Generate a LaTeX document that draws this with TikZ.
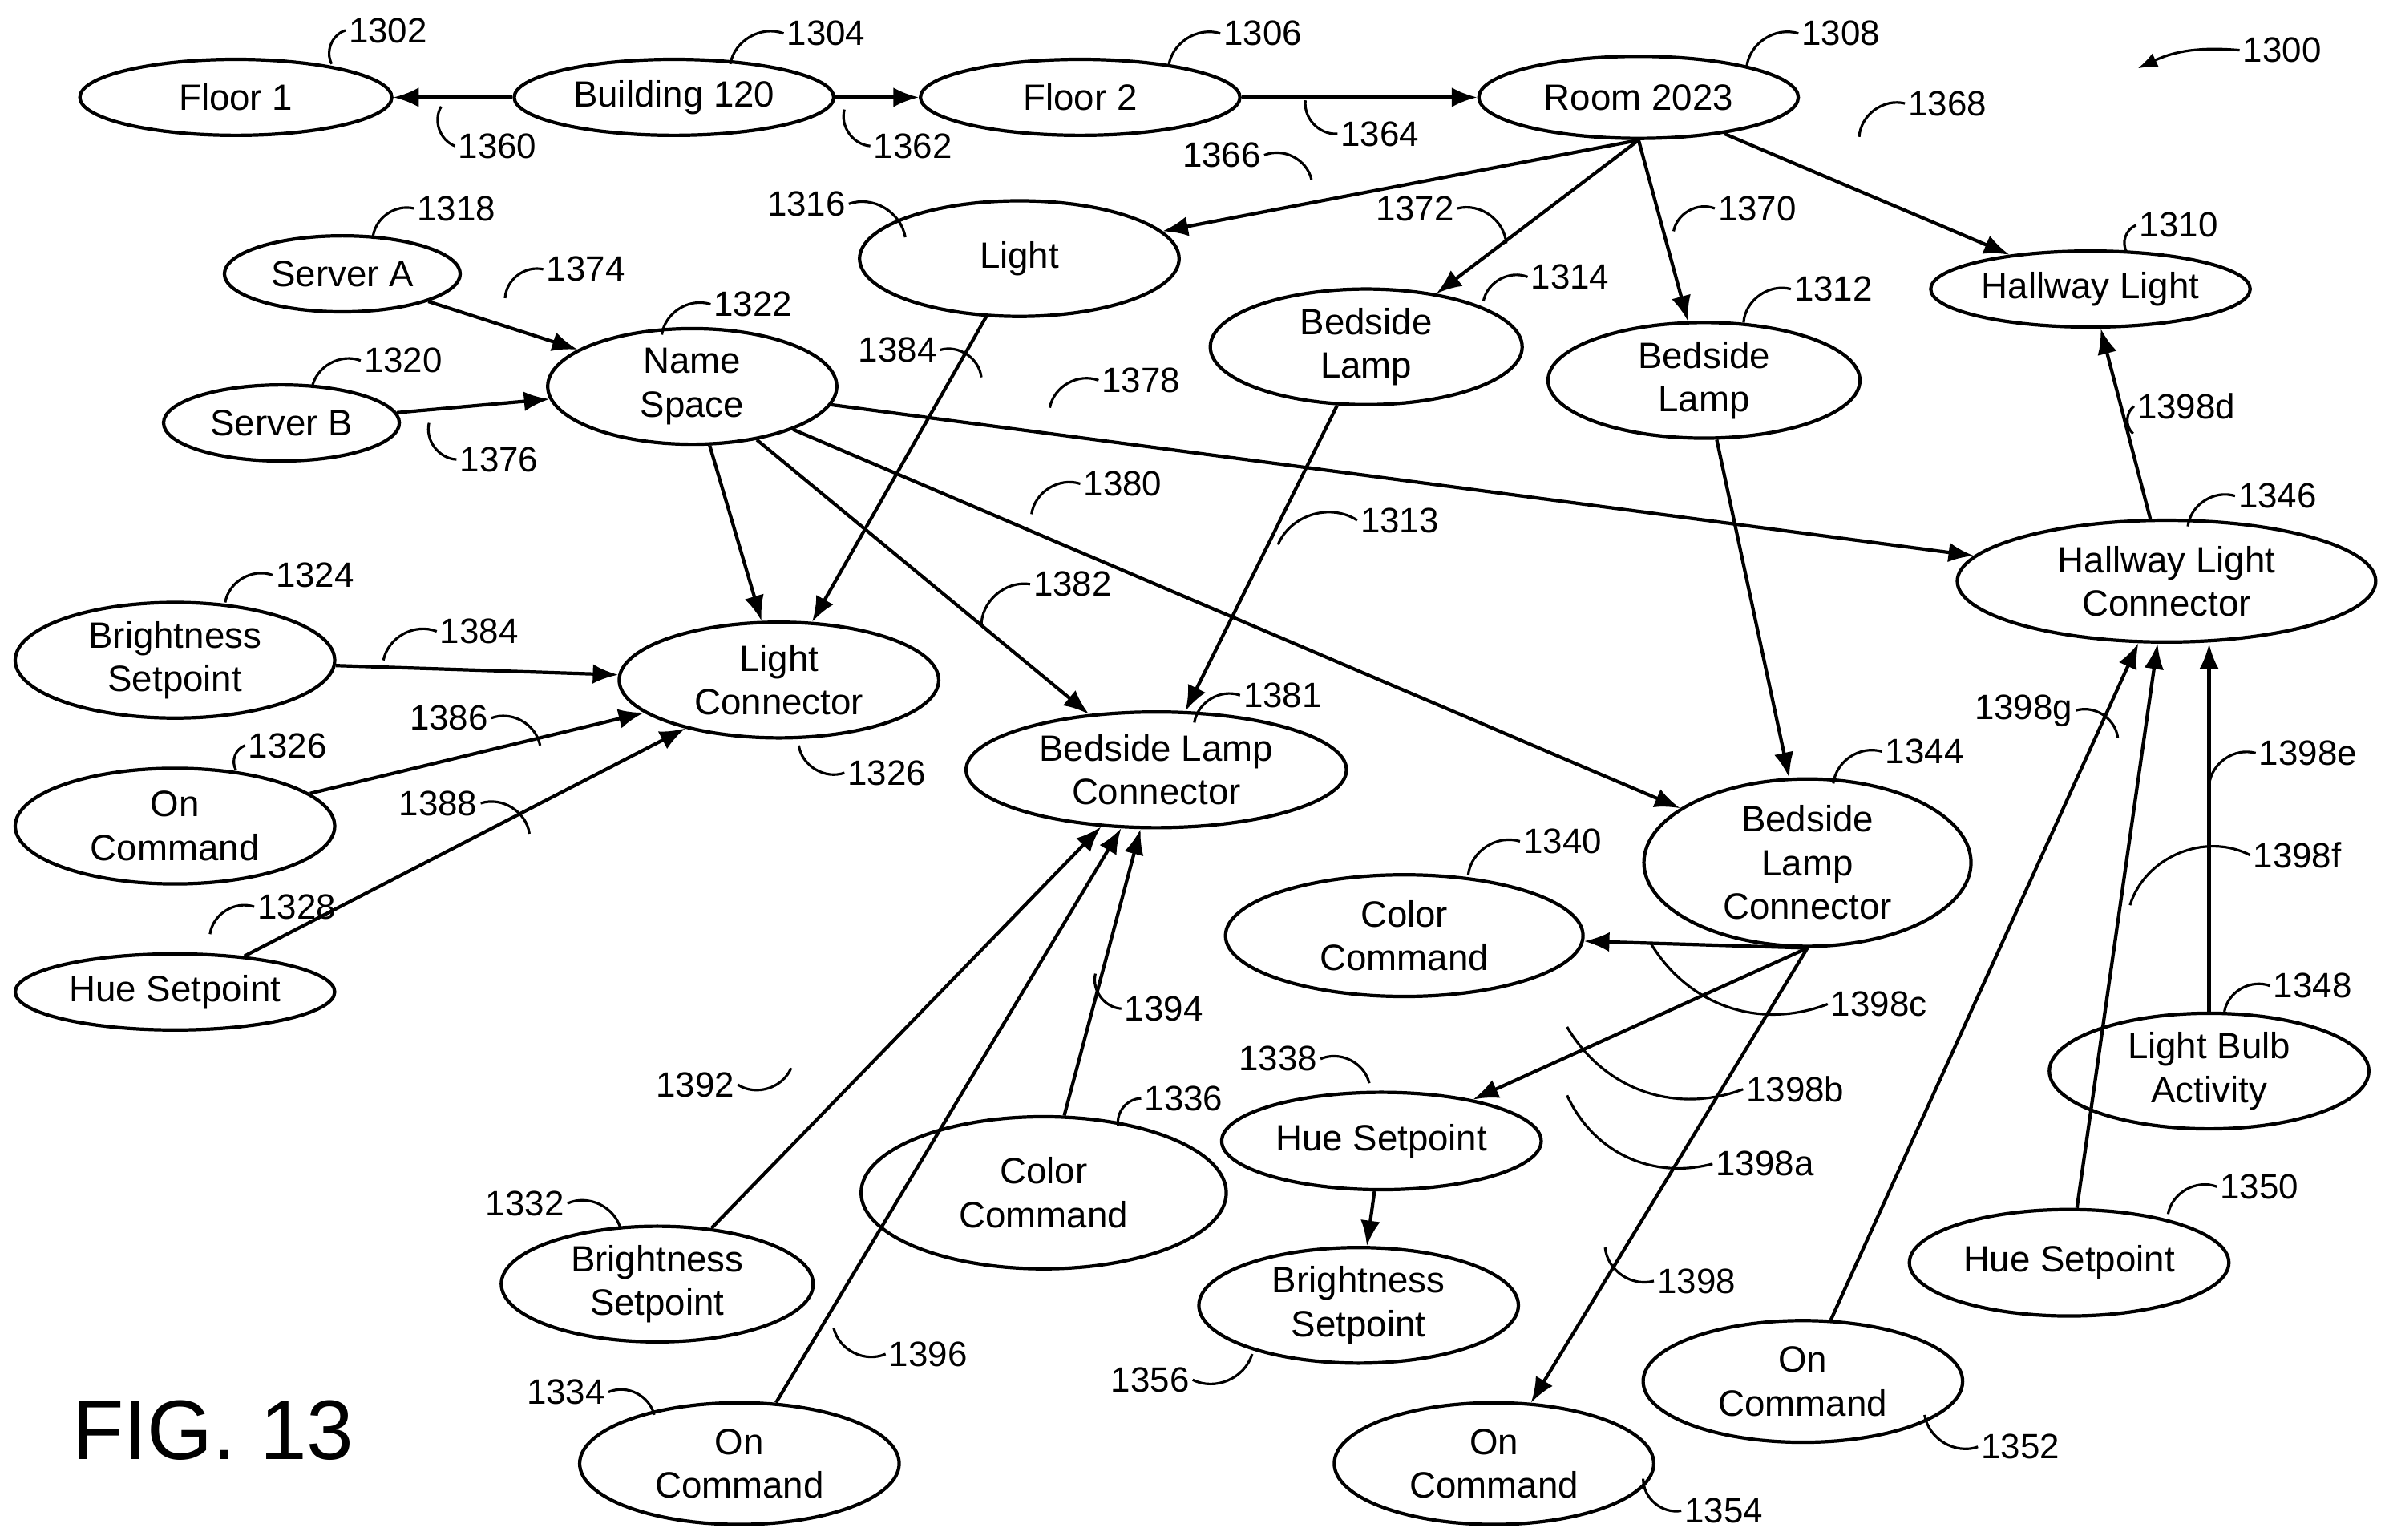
\documentclass[tikz,border=0pt]{standalone}
\usepackage{fontspec}
\setmainfont{Liberation Sans}
\usetikzlibrary{shapes.geometric,arrows.meta}
\begin{document}
\begin{tikzpicture}[x=0.019cm,y=-0.019cm,
  e/.style 2 args={ellipse,draw,line width=1.2pt,inner sep=0pt,minimum width=#1*0.019cm,minimum height=#2*0.019cm,align=center,font=\fontsize{13}{15.5}\selectfont},
  a/.style={-{Latex[length=9pt,width=7pt]},line width=1.2pt},
  lab/.style={font=\fontsize{12.5}{14}\selectfont,inner sep=1pt},
  lead/.style={line width=0.9pt}]
\useasboundingbox (0,0) rectangle (1565,1012);
\newcommand\lbl[5][50]{\node[lab] (#4) at (#2) {#4}; \draw[lead] (#3) to[bend left=#1] (#4.#5);}
\node[e={205}{50}] (f1) at (155,64) {Floor 1};
\node[e={210}{50}] (b120) at (443,64) {Building 120};
\node[e={210}{50}] (f2) at (710,64) {Floor 2};
\node[e={210}{54}] (room) at (1077,64) {Room 2023};
\node[e={210}{76}] (light) at (670,170) {Light};
\node[e={155}{50}] (sa) at (225,180) {Server A};
\node[e={155}{50}] (sb) at (185,278) {Server B};
\node[e={190}{76}] (ns) at (455,254) {Name\\Space};
\node[e={205}{76}] (bl1) at (898,228) {Bedside\\Lamp};
\node[e={205}{76}] (bl2) at (1120,250) {Bedside\\Lamp};
\node[e={210}{50}] (hl) at (1374,190) {Hallway Light};
\node[e={275}{80}] (hlc) at (1424,382) {Hallway Light\\Connector};
\node[e={210}{76}] (bs1) at (115,434) {Brightness\\Setpoint};
\node[e={210}{76}] (lc) at (512,447) {Light\\Connector};
\node[e={210}{76}] (on1) at (115,543) {On\\Command};
\node[e={210}{50}] (hue1) at (115,652) {Hue Setpoint};
\node[e={250}{76}] (blc1) at (760,506) {Bedside Lamp\\Connector};
\node[e={215}{110}] (blc2) at (1188,567) {Bedside\\Lamp\\Connector};
\node[e={235}{80}] (cc1) at (923,615) {Color\\Command};
\node[e={210}{76}] (lba) at (1452,704) {Light Bulb\\Activity};
\node[e={210}{64}] (hue2) at (908,750) {Hue Setpoint};
\node[e={240}{100}] (cc2) at (686,784) {Color\\Command};
\node[e={205}{76}] (bs2) at (432,844) {Brightness\\Setpoint};
\node[e={210}{76}] (bs3) at (893,858) {Brightness\\Setpoint};
\node[e={210}{70}] (hue3) at (1360,830) {Hue Setpoint};
\node[e={210}{80}] (on2) at (1185,908) {On\\Command};
\node[e={210}{80}] (on3) at (486,962) {On\\Command};
\node[e={210}{80}] (on4) at (982,962) {On\\Command};
\node[font=\fontsize{30}{34}\selectfont] (fig) at (140,940) {FIG. 13};
% edges
\draw[a] (b120) -- (f1);
\draw[a] (b120) -- (f2);
\draw[a] (f2) -- (room);
\draw[a] (room.south) -- (light);
\draw[a] (room) -- (hl);
\draw[a] (room.south) -- (bl1);
\draw[a] (room.south) -- (bl2);
\draw[a] (sa) -- (ns);
\draw[a] (sb) -- (ns);
\draw[a] (ns) -- (lc);
\draw[a] (ns) -- (blc1);
\draw[a] (ns) -- (blc2);
\draw[a] (ns) -- (hlc);
\draw[a] (light) -- (lc);
\draw[a] (bl1) -- (blc1);
\draw[a] (bl2) -- (blc2);
\draw[a] (bs1) -- (lc);
\draw[a] (on1) -- (lc);
\draw[a] (hue1) -- (lc);
\draw[a] (bs2) -- (blc1);
\draw[a] (on3) -- (blc1);
\draw[a] (cc2) -- (blc1);
\draw[a] (blc2.south) -- (cc1);
\draw[a] (blc2.south) -- (hue2);
\draw[a] (blc2.south) -- (on4);
\draw[a] (hue2) -- (bs3);
\draw[a] (hlc) -- (hl);
\draw[a] (on2) -- (hlc);
\draw[a] (lba.north) -- (lba.north |- hlc.south);
\draw[a] (hue3) -- (hlc);
% labels
\lbl{255,20}{218,42}{1302}{west}
\lbl{543,22}{480,42}{1304}{west}
\lbl{830,22}{768,44}{1306}{west}
\lbl{1210,22}{1148,44}{1308}{west}
\node[lab] (l1300) at (1500,33) {1300};
\draw[-{Latex[length=7pt]},line width=0.9pt] (l1300.west) to[bend right=15] (1405,45);
\lbl[-50]{327,96}{290,70}{1360}{west}
\lbl[-50]{600,96}{555,72}{1362}{west}
\lbl[-50]{907,88}{858,66}{1364}{west}
\lbl[-50]{803,102}{862,118}{1366}{east}
\lbl{1280,68}{1222,90}{1368}{west}
\lbl[-50]{530,134}{595,156}{1316}{east}
\lbl[-50]{930,137}{990,160}{1372}{east}
\lbl{1155,137}{1100,152}{1370}{west}
\lbl{1032,182}{975,198}{1314}{west}
\lbl{1205,190}{1146,212}{1312}{west}
\lbl{1432,148}{1398,166}{1310}{west}
\lbl{300,137}{245,157}{1318}{west}
\lbl{385,177}{332,196}{1374}{west}
\lbl{495,200}{435,220}{1322}{west}
\lbl{265,237}{205,255}{1320}{west}
\lbl[-50]{328,302}{282,278}{1376}{west}
\node[lab] (l1384a) at (590,230) {1384}; \draw[lead] (645,248) to[bend right=50] (l1384a.east);
\lbl{750,250}{690,268}{1378}{west}
\lbl{738,318}{678,338}{1380}{west}
\lbl{920,342}{840,358}{1313}{west}
\lbl{705,384}{645,412}{1382}{west}
\lbl{1497,326}{1438,346}{1346}{west}
\lbl{1437,267}{1402,285}{1398d}{west}
\lbl{207,378}{148,396}{1324}{west}
\lbl{315,415}{252,434}{1384}{west}
\lbl[-50]{295,472}{355,490}{1386}{east}
\lbl{189,490}{155,506}{1326}{west}
\lbl[-50]{288,528}{348,548}{1388}{east}
\node[lab] (l1326b) at (583,508) {1326}; \draw[lead] (525,490) to[bend right=50] (l1326b.west);
\lbl{843,457}{785,475}{1381}{west}
\lbl{195,596}{138,614}{1328}{west}
\lbl[-50]{1330,467}{1392,485}{1398g}{east}
\lbl{1517,495}{1452,516}{1398e}{west}
\lbl{1265,494}{1205,515}{1344}{west}
\lbl{1027,553}{965,575}{1340}{west}
\lbl{1510,562}{1400,595}{1398f}{west}
\lbl{1520,648}{1462,665}{1348}{west}
\lbl[-40]{1235,660}{1085,620}{1398c}{west}
\lbl[-40]{1180,716}{1030,675}{1398b}{west}
\lbl[-40]{1160,765}{1030,720}{1398a}{west}
\lbl[-50]{765,663}{720,640}{1394}{west}
\lbl[-50]{840,696}{900,712}{1338}{east}
\lbl{778,722}{735,740}{1336}{west}
\lbl{457,713}{520,702}{1392}{east}
\lbl[-50]{345,791}{408,808}{1332}{east}
\lbl{1485,780}{1425,798}{1350}{west}
\lbl[-50]{1115,842}{1055,820}{1398}{west}
\lbl[-50]{610,890}{548,873}{1396}{west}
\lbl{756,907}{823,890}{1356}{east}
\lbl[-50]{372,915}{430,930}{1334}{east}
\lbl[-50]{1328,951}{1265,930}{1352}{west}
\lbl[-50]{1133,993}{1080,972}{1354}{west}
\end{tikzpicture}
\end{document}
